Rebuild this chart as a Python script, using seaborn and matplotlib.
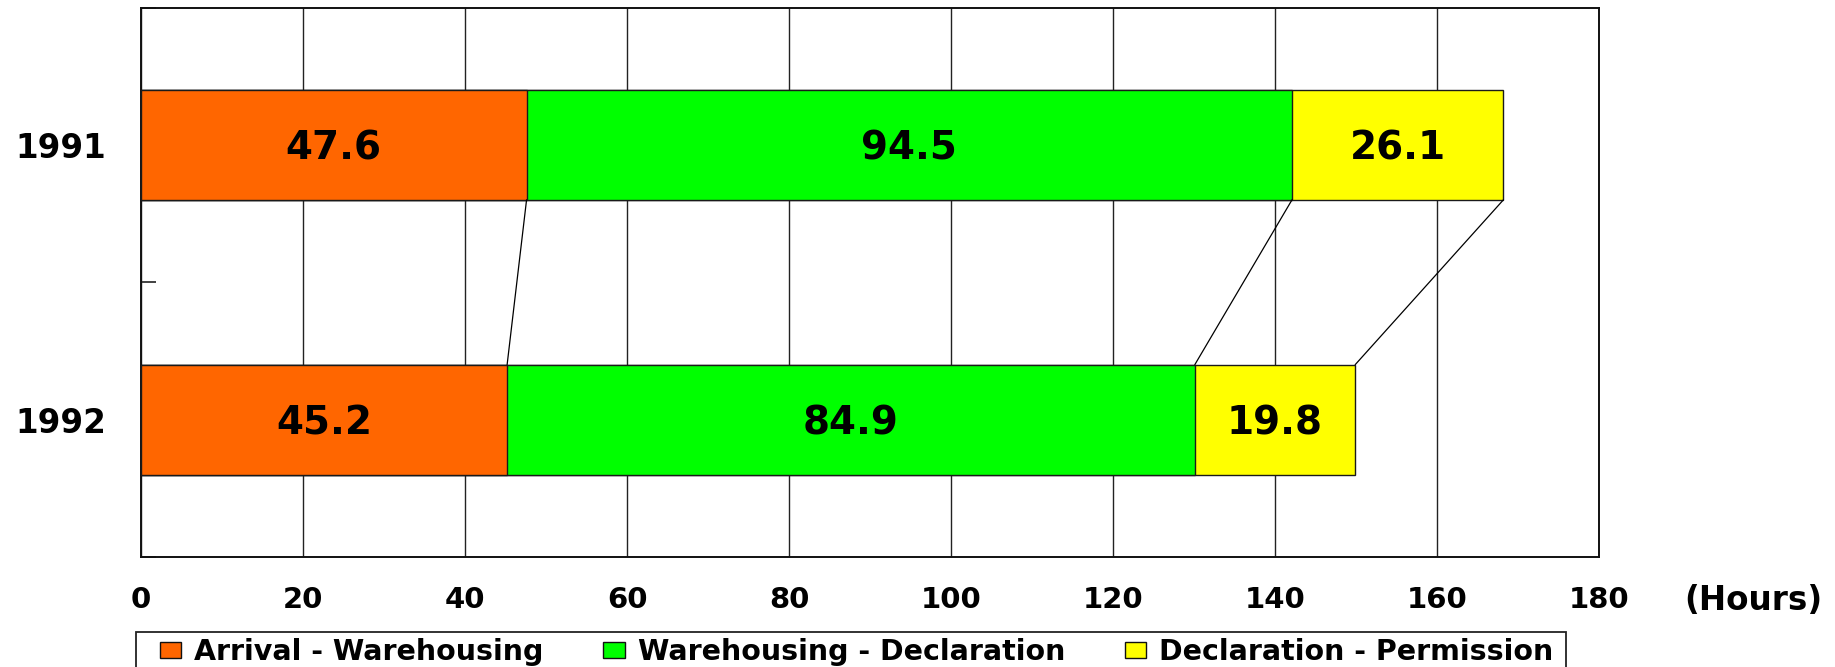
import numpy as np
import pandas as pd
import matplotlib
matplotlib.use("Agg")
import matplotlib.pyplot as plt
import seaborn as sns
from matplotlib.patches import Patch, Rectangle

# Average clearance time per stage (hours)
years = ["1991", "1992"]
arrival_warehousing = [47.6, 45.2]
warehousing_declaration = [94.5, 84.9]
declaration_permission = [26.1, 19.8]

stage_names = ["Arrival - Warehousing", "Warehousing - Declaration", "Declaration - Permission"]
stage_colors = ["#FF6600", "#00FF00", "#FFFF00"]
x_ticks = [0, 20, 40, 60, 80, 100, 120, 140, 160, 180]
unit_label = "(Hours)"

sns.set_theme(style="white")
plt.rcParams["font.family"] = ["DejaVu Sans"]
plt.rcParams["text.color"] = "black"
plt.rcParams["xtick.color"] = "black"
plt.rcParams["ytick.color"] = "black"
plt.rcParams["xtick.labelcolor"] = "black"
plt.rcParams["ytick.labelcolor"] = "black"

W, H = 1835, 667
fig = plt.figure(figsize=(W / 100, H / 100), dpi=100)
fig.patch.set_facecolor("white")
ax = fig.add_axes([141 / W, 1 - 557 / H, (1599 - 141) / W, (557 - 7.5) / H])

stages = np.array([arrival_warehousing, warehousing_declaration, declaration_permission])
ends = np.cumsum(stages, axis=0)
starts = ends - stages
bar_h = 0.4

# stacked bars: draw cumulative totals from the outermost stage inwards
for i in reversed(range(len(stages))):
    df = pd.DataFrame({"year": years, "end": ends[i]})
    sns.barplot(data=df, x="end", y="year", orient="y", color=stage_colors[i],
                saturation=1, width=bar_h, errorbar=None, edgecolor="#1a1a1a",
                linewidth=1.0, ax=ax, zorder=3)

# value labels centred in each segment
for i in range(len(stages)):
    for j in range(len(years)):
        ax.text(starts[i, j] + stages[i, j] / 2, j, f"{stages[i, j]:.1f}",
                ha="center", va="center_baseline", fontsize=28,
                fontweight="bold", color="black", zorder=5)

# connectors between matching segment boundaries of the two years
for i in range(len(stages)):
    ax.plot([ends[i, 0], ends[i, 1]], [0 + bar_h / 2, 1 - bar_h / 2],
            color="black", lw=0.9, zorder=4)

ax.set_xlim(0, 180)
ax.set_ylim(1.5, -0.5)
ax.set_xticks(x_ticks)
ax.set_xticklabels([str(t) for t in x_ticks], fontsize=21, fontweight="bold")
ax.set_yticks(range(len(years)))
ax.set_yticklabels(years, fontsize=23.5, fontweight="bold")
ax.set_yticks([-0.5, 0.5, 1.5], minor=True)
ax.tick_params(axis="x", which="major", length=0, pad=21)
ax.tick_params(axis="y", which="major", length=0, pad=25)
ax.tick_params(axis="y", which="minor", left=True, direction="in",
               length=11, width=1.3, color="#333333")
ax.set_xlabel("")
ax.set_ylabel("")

ax.grid(axis="x", color="#222222", lw=1.0)
ax.grid(axis="y", visible=False)
ax.set_axisbelow(True)
for s in ax.spines.values():
    s.set_visible(True)
    s.set_color("#111111")
    s.set_linewidth(1.4)

fig.text(1684 / W, 1 - 601 / H, unit_label, ha="left", va="center",
         fontsize=23.5, fontweight="bold", color="black")

handles = [Patch(facecolor=c, edgecolor="#111111", lw=1.0) for c in stage_colors]
fig.legend(handles, stage_names, loc="upper left",
           bbox_to_anchor=(160 / W, 1 - 638 / H), bbox_transform=fig.transFigure,
           ncol=3, frameon=False, prop={"weight": "bold", "size": 20.5},
           labelcolor="black",
           handlelength=0.75, handleheight=0.5, handletextpad=0.45,
           columnspacing=2.1, borderpad=0, borderaxespad=0)
fig.add_artist(Rectangle((136 / W, -0.1), (1566 - 136) / W, 0.1 + 1 - 632 / H,
                         transform=fig.transFigure, fill=False,
                         edgecolor="#222222", lw=1.3))

fig.savefig("out.png", dpi=100, facecolor="white")
